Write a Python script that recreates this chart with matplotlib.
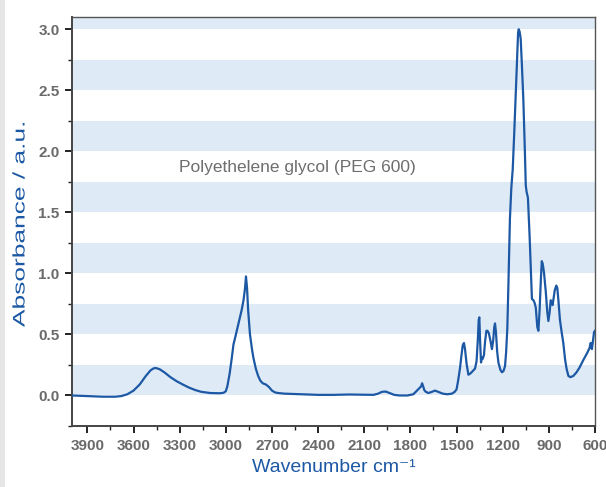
import numpy as np
import matplotlib.pyplot as plt
from matplotlib.ticker import MultipleLocator
from matplotlib.patches import Rectangle, PathPatch
from matplotlib.textpath import TextPath
from matplotlib.font_manager import FontProperties
from matplotlib.transforms import Affine2D

plt.rcParams['font.family'] = ['Liberation Sans', 'DejaVu Sans']

# IR spectrum of PEG 600
wavenumber = [4000, 3900, 3800, 3720, 3680, 3640, 3600, 3560, 3520, 3490, 3470, 3455,
              3430, 3400, 3360, 3320, 3280, 3240, 3200, 3160, 3100, 3040, 3015, 3000,
              2990, 2975, 2962, 2950, 2940, 2925, 2910, 2897, 2885, 2875, 2869, 2862,
              2855, 2843, 2830, 2821, 2805, 2790, 2775, 2760, 2740, 2720, 2700, 2680,
              2660, 2620, 2500, 2400, 2300, 2200, 2100, 2040, 2010, 1985, 1960, 1935,
              1905, 1870, 1820, 1781, 1765, 1750, 1740, 1730, 1724, 1717, 1710, 1700,
              1683, 1660, 1640, 1620, 1590, 1560, 1530, 1512, 1500, 1490, 1478, 1468,
              1460, 1452, 1445, 1435, 1423, 1410, 1395, 1380, 1370, 1362, 1356, 1352,
              1347, 1341, 1335, 1330, 1322, 1314, 1306, 1299, 1290, 1280, 1270, 1262,
              1255, 1250, 1244, 1236, 1228, 1215, 1205, 1195, 1185, 1178, 1170, 1164,
              1158, 1153, 1144, 1135, 1125, 1116, 1106, 1100, 1096, 1090, 1083, 1075,
              1066, 1057, 1050, 1045, 1036, 1025, 1015, 1010, 1000, 993, 985, 975,
              968, 960, 952, 946, 940, 931, 920, 910, 903, 895, 888, 881, 876, 871,
              862, 852, 845, 838, 828, 817, 806, 795, 785, 773, 760, 741, 720, 700,
              676, 650, 635, 628, 620, 612, 606, 600]
absorbance = [0.00, -0.005, -0.01, -0.01, -0.005, 0.01, 0.04, 0.09, 0.16, 0.205, 0.222, 0.225,
              0.215, 0.19, 0.15, 0.117, 0.09, 0.065, 0.045, 0.03, 0.02, 0.018, 0.022, 0.035,
              0.076, 0.18, 0.30, 0.42, 0.47, 0.55, 0.63, 0.70, 0.78, 0.88, 0.975, 0.88,
              0.70, 0.50, 0.38, 0.31, 0.22, 0.16, 0.12, 0.10, 0.09, 0.07, 0.04, 0.025,
              0.02, 0.015, 0.01, 0.005, 0.005, 0.008, 0.006, 0.005, 0.015, 0.03, 0.032, 0.02,
              0.005, 0.0, 0.0, 0.01, 0.03, 0.05, 0.06, 0.075, 0.10, 0.075, 0.045, 0.03,
              0.02, 0.03, 0.04, 0.03, 0.015, 0.01, 0.015, 0.03, 0.05, 0.12, 0.22, 0.33,
              0.41, 0.43, 0.38, 0.26, 0.17, 0.18, 0.20, 0.22, 0.28, 0.45, 0.62, 0.64,
              0.45, 0.27, 0.31, 0.30, 0.33, 0.45, 0.53, 0.53, 0.51, 0.45, 0.38, 0.45,
              0.56, 0.59, 0.52, 0.36, 0.27, 0.21, 0.19, 0.20, 0.24, 0.35, 0.55, 0.85,
              1.20, 1.45, 1.70, 1.85, 2.15, 2.45, 2.80, 2.97, 3.00, 2.98, 2.92, 2.70,
              2.43, 2.05, 1.72, 1.67, 1.62, 1.30, 0.95, 0.79, 0.78, 0.76, 0.72, 0.56,
              0.53, 0.70, 0.95, 1.10, 1.08, 1.00, 0.85, 0.68, 0.61, 0.68, 0.78, 0.76,
              0.74, 0.78, 0.86, 0.90, 0.88, 0.78, 0.62, 0.52, 0.43, 0.30, 0.22, 0.16,
              0.15, 0.16, 0.19, 0.23, 0.29, 0.35, 0.39, 0.43, 0.38, 0.46, 0.52, 0.53]

label = 'Polyethelene glycol (PEG 600)'
ylab = 'Absorbance / a.u.'
xlab = 'Wavenumber cm\u207b\u00b9'

line_c = '#1c58a4'
band_c = '#deebf7'
tick_c = '#6a6a6a'

W, H = 606, 487
fig = plt.figure(figsize=(W/100, H/100), dpi=100)
fig.patch.set_facecolor('white')
# light grey strip on the left edge
fig.patches.append(Rectangle((0, 0), 5/W, 1, transform=fig.transFigure,
                             color='#e6e6e6', lw=0, zorder=0))
ax = fig.add_axes([72/W, 1-426/H, (595-72)/W, (426-17)/H])

# alternating light blue bands
for lo in np.arange(0.0, 3.1, 0.5):
    ax.axhspan(lo, lo+0.25, color=band_c, lw=0, zorder=0)

ax.plot(wavenumber, absorbance, color=line_c, lw=1.6, zorder=3)

ax.set_xlim(4000, 600)
ax.set_ylim(-0.25, 3.1)
ax.xaxis.set_minor_locator(MultipleLocator(150))
ax.yaxis.set_major_locator(MultipleLocator(0.5))
ax.yaxis.set_minor_locator(MultipleLocator(0.25))
ax.set_xticks(np.arange(3900, 599, -300))
ax.yaxis.set_major_formatter(plt.FormatStrFormatter('%.1f'))

ax.tick_params(which='major', direction='out', length=5, width=1.4, color='#222222',
               labelcolor=tick_c, labelsize=11, pad=4)
ax.tick_params(which='minor', direction='out', length=3, width=1.0, color='#222222')
for t in ax.get_xticklabels() + ax.get_yticklabels():
    t.set_fontweight('bold')

for s in ['left', 'bottom']:
    ax.spines[s].set_color('#444444')
    ax.spines[s].set_linewidth(1.4)
for s in ['top', 'right']:
    ax.spines[s].set_color('#555555')
    ax.spines[s].set_linewidth(1.0)

# y label: stretched along its length like in the reference
tp = TextPath((0, 0), ylab, size=1, prop=FontProperties(family='Liberation Sans'))
ext = tp.get_extents()
sx = 204 / ext.width
sy = 12 / 0.716
tr = (Affine2D().translate(-(ext.x0 + ext.x1) / 2, 0).scale(sx, sy)
      .rotate_deg(90).translate(24.5, H - 225))
fig.patches.append(PathPatch(tr.transform_path(tp), transform=None,
                             color=line_c, lw=0))

ax.set_xlabel(xlab, color=line_c, fontsize=14, labelpad=5)

ax.text(2537, 1.87, label, color='#6e6e6e', fontsize=12.5, ha='center', va='center')

fig.savefig('out.png', dpi=100)
